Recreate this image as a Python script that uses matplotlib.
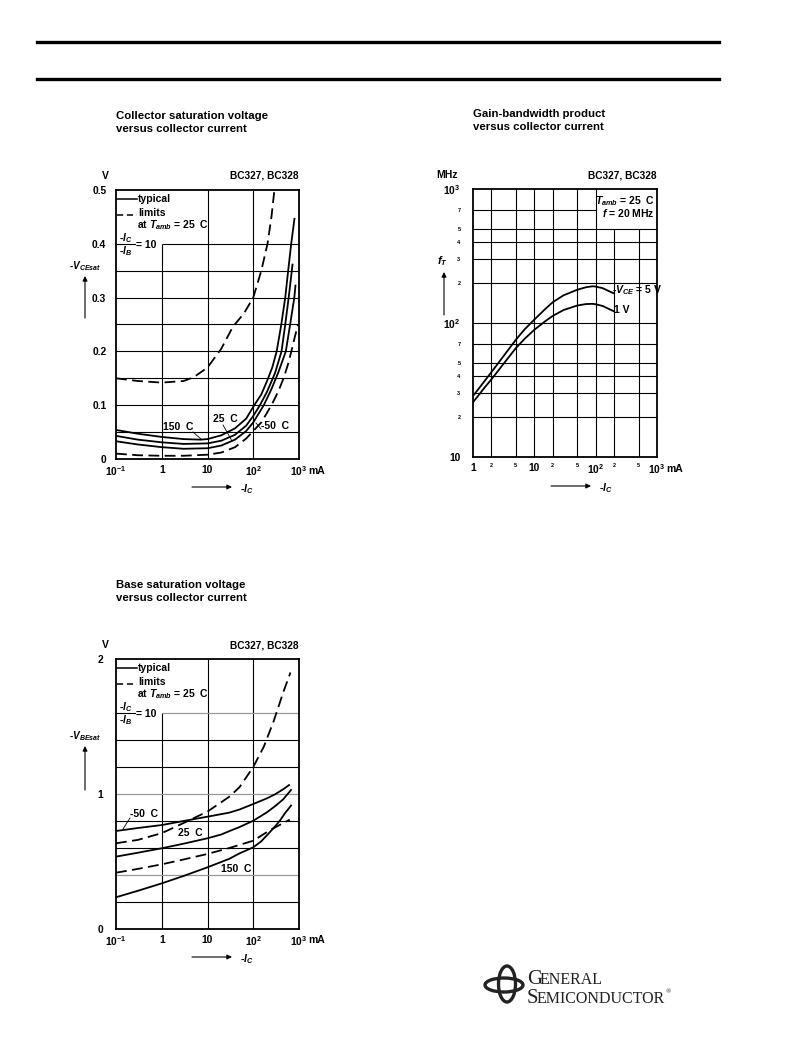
import matplotlib
matplotlib.use('Agg')
import matplotlib.pyplot as plt
from matplotlib.ticker import NullLocator
from matplotlib.patches import Ellipse

plt.rcParams['font.family'] = ['Liberation Sans', 'DejaVu Sans']
plt.rcParams['font.weight'] = 'bold'
plt.rcParams['mathtext.fontset'] = 'custom'
plt.rcParams['mathtext.rm'] = 'Liberation Sans:bold'
plt.rcParams['mathtext.bf'] = 'Liberation Sans:bold'
plt.rcParams['mathtext.it'] = 'Liberation Sans:italic:bold'

W, H = 793, 1056

# ---- Collector saturation voltage vs collector current (mA, V)
vce_ic_150 = [0.1, 0.3, 1, 3, 7, 10, 20, 40, 70, 100, 150, 200, 260, 325, 410, 500, 580, 675, 800]
vce_150 = [0.054, 0.047, 0.041, 0.037, 0.036, 0.037, 0.044, 0.057, 0.075, 0.097, 0.12, 0.145, 0.17, 0.2, 0.25, 0.3, 0.35, 0.4, 0.448]
vce_ic_25 = [0.1, 0.3, 1, 3, 10, 20, 40, 70, 100, 140, 200, 300, 415, 500, 595, 725]
vce_25 = [0.043, 0.036, 0.031, 0.028, 0.029, 0.034, 0.045, 0.062, 0.08, 0.1, 0.125, 0.16, 0.2, 0.25, 0.3, 0.363]
vce_ic_m50 = [0.1, 0.3, 1, 3, 10, 20, 40, 70, 100, 170, 250, 350, 515, 640, 790, 840]
vce_m50 = [0.033, 0.027, 0.022, 0.019, 0.02, 0.025, 0.036, 0.052, 0.068, 0.1, 0.13, 0.16, 0.2, 0.25, 0.3, 0.324]
vce_ic_max = [0.1, 0.3, 1, 3, 5, 10, 20, 36, 63, 100, 150, 205, 250, 290]
vce_max = [0.15, 0.145, 0.142, 0.145, 0.152, 0.17, 0.205, 0.246, 0.271, 0.3, 0.35, 0.4, 0.45, 0.5]
vce_ic_min = [0.1, 0.3, 1, 3, 10, 20, 40, 70, 100, 150, 250, 350, 460, 570, 680, 800, 950]
vce_min = [0.01, 0.007, 0.006, 0.006, 0.008, 0.012, 0.022, 0.038, 0.052, 0.068, 0.1, 0.125, 0.15, 0.175, 0.2, 0.225, 0.25]

# ---- Gain-bandwidth product vs collector current (mA, MHz)
ft_ic_5v = [1, 2, 3, 5, 7, 10, 15, 20, 30, 50, 70, 90, 100, 130, 160, 200]
ft_5v = [28.5, 43, 55, 75, 90, 106, 127, 143, 161, 177, 185, 188, 187, 182, 174, 166]
ft_ic_1v = [1, 1.5, 2, 3, 5, 7, 10, 15, 20, 30, 50, 70, 90, 100, 130, 160, 200]
ft_1v = [25.6, 32.4, 38, 48.2, 65, 76.5, 89, 103, 113, 125, 135, 138.5, 139, 138, 134, 128, 122]

# ---- Base saturation voltage vs collector current (mA, V)
vbe_ic_m50 = [0.1, 0.3, 1, 3, 10, 30, 50, 100, 200, 300, 450, 630]
vbe_m50 = [0.726, 0.748, 0.77, 0.80, 0.832, 0.862, 0.885, 0.926, 0.968, 0.998, 1.035, 1.07]
vbe_ic_25 = [0.1, 0.3, 1, 3, 10, 20, 30, 50, 100, 200, 300, 450, 690]
vbe_25 = [0.536, 0.565, 0.598, 0.632, 0.672, 0.7, 0.725, 0.755, 0.802, 0.865, 0.91, 0.96, 1.035]
vbe_ic_150 = [0.1, 0.3, 1, 3, 10, 30, 50, 100, 150, 234, 300, 390, 500, 690]
vbe_150 = [0.235, 0.283, 0.338, 0.393, 0.457, 0.52, 0.56, 0.605, 0.65, 0.72, 0.76, 0.807, 0.86, 0.92]
vbe_ic_max = [0.1, 0.3, 1, 3, 10, 30, 50, 100, 170, 277, 460, 650]
vbe_max = [0.635, 0.66, 0.71, 0.785, 0.87, 0.98, 1.05, 1.2, 1.35, 1.536, 1.76, 1.9]
vbe_ic_min = [0.1, 0.3, 1, 3, 10, 30, 100, 234, 400, 630]
vbe_min = [0.417, 0.445, 0.479, 0.515, 0.556, 0.6, 0.654, 0.733, 0.775, 0.81]

dec_ticks = [0.1, 1, 10, 100, 1000]
dec_labels = ['10$^{-1}$', '1', '10', '10$^2$', '10$^3$']
vce_ticks = [0, 0.1, 0.2, 0.3, 0.4, 0.5]
vce_labels = ['0', '0.1', '0.2', '0.3', '0.4', '0.5']
vbe_ticks = [0, 1, 2]
vbe_labels = ['0', '1', '2']
ft_x_major = [1, 10, 100, 1000]
ft_x_major_labels = ['1', '10', '10$^2$', '10$^3$']
ft_x_minor = [2, 5, 20, 50, 200, 500]
ft_x_minor_labels = ['2', '5', '2', '5', '2', '5']
ft_y_major = [10, 100, 1000]
ft_y_major_labels = ['10', '10$^2$', '10$^3$']
ft_y_minor = [20, 30, 40, 50, 70, 200, 300, 400, 500, 700]
ft_y_minor_labels = ['2', '3', '4', '5', '7', '2', '3', '4', '5', '7']

SOLID = dict(color='k', lw=1.3, solid_capstyle='butt', solid_joinstyle='round')
DASH = dict(color='k', lw=1.3, ls=(0, (6, 3)))
GRID = dict(color='k', lw=0.8)


def box(l, t, r, b):
    return [l / W, 1 - b / H, (r - l) / W, (b - t) / H]


def style(ax):
    for s in ax.spines.values():
        s.set_linewidth(1.3)
    ax.tick_params(which='both', length=0, labelsize=7.4)


fig = plt.figure(figsize=(W / 100, H / 100), dpi=100)
ax1 = fig.add_axes(box(116, 190, 299, 459))
ax2 = fig.add_axes(box(473, 189, 657, 457))
ax3 = fig.add_axes(box(116, 659, 299, 929))
pg = fig.add_axes([0, 0, 1, 1], zorder=10)
pg.set_xlim(0, W)
pg.set_ylim(H, 0)
pg.axis('off')

# ---------------- chart 1
style(ax1)
ax1.set_xscale('log')
ax1.set_xlim(0.1, 1000)
ax1.set_ylim(0, 0.5)
ax1.xaxis.set_minor_locator(NullLocator())
ax1.set_xticks(dec_ticks, dec_labels)
ax1.set_yticks(vce_ticks, vce_labels)
ax1.tick_params(axis='x', pad=4)
ax1.tick_params(axis='y', pad=7)
ax1.vlines([10, 100], 0, 0.5, **GRID)
ax1.vlines(1, 0, 0.4, **GRID)
ax1.hlines([0.05, 0.1, 0.15, 0.2, 0.25, 0.3, 0.35], 0.1, 1000, **GRID)
ax1.hlines(0.4, 1, 1000, **GRID)
ax1.plot(vce_ic_150, vce_150, **SOLID)
ax1.plot(vce_ic_25, vce_25, **SOLID)
ax1.plot(vce_ic_m50, vce_m50, **SOLID)
ax1.plot(vce_ic_max, vce_max, **DASH)
ax1.plot(vce_ic_min, vce_min, **DASH)

# ---------------- chart 3
style(ax3)
ax3.set_xscale('log')
ax3.set_xlim(0.1, 1000)
ax3.set_ylim(0, 2)
ax3.xaxis.set_minor_locator(NullLocator())
ax3.set_xticks(dec_ticks, dec_labels)
ax3.set_yticks(vbe_ticks, vbe_labels)
ax3.tick_params(axis='x', pad=4)
ax3.tick_params(axis='y', pad=9)
ax3.vlines([10, 100], 0, 2, **GRID)
ax3.vlines(1, 0, 1.6, **GRID)
ax3.hlines([0.2, 0.6, 0.8, 1.2, 1.4], 0.1, 1000, **GRID)
ax3.hlines([0.4, 1.0], 0.1, 1000, color='#999999', lw=0.9)
ax3.hlines(1.6, 1, 1000, color='#999999', lw=0.9)
ax3.plot(vbe_ic_m50, vbe_m50, **SOLID)
ax3.plot(vbe_ic_25, vbe_25, **SOLID)
ax3.plot(vbe_ic_150, vbe_150, **SOLID)
ax3.plot(vbe_ic_max, vbe_max, **DASH)
ax3.plot(vbe_ic_min, vbe_min, **DASH)

# ---------------- chart 2
style(ax2)
ax2.set_xscale('log')
ax2.set_yscale('log')
ax2.set_xlim(1, 1000)
ax2.set_ylim(10, 1000)
ax2.set_xticks(ft_x_major, ft_x_major_labels)
ax2.set_xticks(ft_x_minor, ft_x_minor_labels, minor=True)
ax2.set_yticks(ft_y_major, ft_y_major_labels)
ax2.set_yticks(ft_y_minor, ft_y_minor_labels, minor=True)
ax2.tick_params(which='minor', labelsize=4)
ax2.tick_params(axis='x', which='both', pad=4)
ax2.tick_params(axis='y', which='both', pad=9)
ax2.vlines([2, 5, 10, 20, 50, 100], 10, 1000, **GRID)
ax2.vlines([200, 500], 10, 500, **GRID)
ax2.hlines([20, 30, 40, 50, 70, 100, 200, 300, 400, 500], 1, 1000, **GRID)
ax2.hlines(700, 1, 100, **GRID)
ax2.plot(ft_ic_5v, ft_5v, **SOLID)
ax2.plot(ft_ic_1v, ft_1v, **SOLID)

# ---------------- page furniture
pg.plot([37, 719], [42, 42], color='k', lw=2.4)
pg.plot([37, 719], [79, 79], color='k', lw=2.4)

TXT = dict(fontsize=7.5, fontweight='bold')
TTL = dict(fontsize=8.2, fontweight='bold', va='top', linespacing=1.35)
pg.text(116, 111, 'Collector saturation voltage\nversus collector current', **TTL)
pg.text(473, 109, 'Gain-bandwidth product\nversus collector current', **TTL)
pg.text(116, 580, 'Base saturation voltage\nversus collector current', **TTL)

for x_r, y in [(299, 176), (657, 175), (299, 645)]:
    pg.text(x_r, y, 'BC327, BC328', ha='right', va='center', fontsize=7.3, fontweight='bold')
pg.text(105, 176, 'V', ha='center', va='center', **TXT)
pg.text(105, 645, 'V', ha='center', va='center', **TXT)
pg.text(447, 175, 'MHz', ha='center', va='center', **TXT)

# units after last x tick
pg.text(308, 471, 'mA', va='center', **TXT)
pg.text(308, 940, 'mA', va='center', **TXT)
pg.text(666, 469, 'mA', va='center', **TXT)

ARR = dict(arrowstyle='-|>', color='k', lw=0.8, mutation_scale=7, shrinkA=0, shrinkB=0)
for x0, x1, y, xt in [(192, 232, 487, 240), (551, 591, 486, 599), (192, 232, 957, 240)]:
    pg.annotate('', xy=(x1, y), xytext=(x0, y), arrowprops=ARR)
    pg.text(xt, y + 2, '-$I_C$', va='center', **TXT)

pg.annotate('', xy=(85, 276), xytext=(85, 318), arrowprops=ARR)
pg.text(85, 266, '-$V_{CEsat}$', ha='center', va='center', fontsize=7.2, fontweight='bold')
pg.annotate('', xy=(85, 746), xytext=(85, 790), arrowprops=ARR)
pg.text(85, 736, '-$V_{BEsat}$', ha='center', va='center', fontsize=7.2, fontweight='bold')
pg.annotate('', xy=(444, 272), xytext=(444, 315), arrowprops=ARR)
pg.text(442, 261, '$f_T$', ha='center', va='center', fontsize=8, fontweight='bold')

# legends of the saturation charts
for dy in (0, 469):
    pg.plot([117, 137], [199 + dy] * 2, color='k', lw=1.1)
    pg.text(138, 199 + dy, 'typical', va='center', **TXT)
    pg.plot([117, 137], [215 + dy] * 2, color='k', lw=1.1, ls=(0, (4, 2.5)))
    pg.text(138, 213 + dy, 'limits', va='center', **TXT)
    pg.text(137, 225 + dy, 'at $T_{amb}$ = 25  C', va='center', **TXT)
    pg.text(126, 238 + dy, '-$I_C$', ha='center', va='center', fontsize=7.3, fontweight='bold')
    pg.plot([117, 135], [244 + dy] * 2, color='k', lw=0.8)
    pg.text(126, 251 + dy, '-$I_B$', ha='center', va='center', fontsize=7.3, fontweight='bold')
    pg.text(136, 245 + dy, '= 10', va='center', **TXT)

# curve labels, chart 1
pg.text(178, 427, '150  C', ha='center', va='center', **TXT)
pg.plot([193, 201], [432, 439], color='k', lw=0.6)
pg.text(225, 419, '25  C', ha='center', va='center', **TXT)
pg.plot([223, 232], [425, 441], color='k', lw=0.6)
pg.text(261, 426, '-50  C', va='center', **TXT)
pg.plot([256, 261], [423, 429], color='k', lw=0.6)

# curve labels, chart 3
pg.text(130, 814, '-50  C', va='center', **TXT)
pg.plot([130, 123], [818, 829], color='k', lw=0.6)
pg.text(178, 833, '25  C', va='center', **TXT)
pg.text(221, 869, '150  C', va='center', **TXT)

# chart 2 labels
pg.text(655, 201, '$T_{amb}$ = 25  C', ha='right', va='center', **TXT)
pg.text(655, 213, '$f$ = 20 MHz', ha='right', va='center', **TXT)
pg.text(612, 290, '-$V_{CE}$ = 5 V', va='center', **TXT)
pg.text(614, 310, '1 V', va='center', **TXT)

# logo
pg.add_patch(Ellipse((504, 985), 38, 14, fill=False, lw=2.4, color='#222222'))
pg.add_patch(Ellipse((507, 984), 17, 36, fill=False, lw=2.4, color='#222222'))
SER = dict(family=['Liberation Serif', 'DejaVu Serif'], color='#222222', fontweight='normal')
pg.text(527, 984, 'G', fontsize=15, va='baseline', **SER)
pg.text(540, 984, 'ENERAL', fontsize=11.5, va='baseline', **SER)
pg.text(527, 1003, 'S', fontsize=15, va='baseline', **SER)
pg.text(537, 1003, 'EMICONDUCTOR', fontsize=11.5, va='baseline', **SER)
pg.text(666, 993, '®', fontsize=5, va='baseline', **SER)

fig.savefig('out.png', dpi=100)
